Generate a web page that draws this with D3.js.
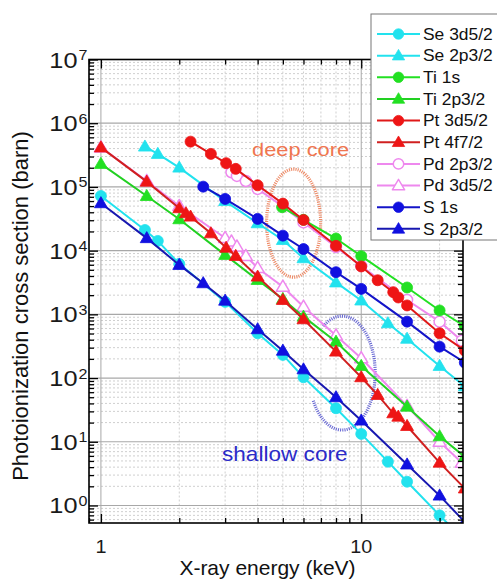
<!DOCTYPE html>
<html><head><meta charset="utf-8">
<script src="https://cdn.jsdelivr.net/npm/d3@7/dist/d3.min.js"></script>
<style>
body{margin:0;background:#fff}
svg{display:block}
text{font-family:"Liberation Sans",Arial,Helvetica,sans-serif}
</style>
</head><body>
<svg id="c" width="497" height="579"></svg>
<script>
// ---- data: [energy keV, cross section barn] ----
const se3d52 = [[1,7.2e4],[1.476,2.11e4],[1.654,1.42e4],[2,6.2e3],[3,1.57e3],[4,505],[5,231],[6,103],[8,33.6],[10,13.3],[12.66,4.87],[15,2.36],[20,0.7],[25,0.28]];
const se2p32 = [[1.476,4.3e5],[1.654,3.3e5],[2,2.01e5],[3,6.0e4],[4,2.69e4],[5,1.47e4],[6,7.6e3],[8,3.17e3],[10,1.65e3],[12.66,725],[15,414],[20,155],[25,74]];
const ti1s   = [[4.966,4.8e4],[6,3.05e4],[8,1.55e4],[10,8.2e3],[15,2.64e3],[20,1.15e3],[25,650]];
const ti2p32 = [[1,2.3e5],[1.5,7.2e4],[2,3.11e4],[3,8.57e3],[4,3.47e3],[5,1.74e3],[6,920],[8,372],[10,155],[15,35.6],[20,12.2],[25,5.8]];
const pt3d52 = [[2.21,5.14e5],[2.645,3.3e5],[3.027,2.36e5],[3.296,1.92e5],[4,1.06e5],[5,5.47e4],[6,3.03e4],[8,1.19e4],[10,5.65e3],[11.564,3.43e3],[13.273,2.23e3],[13.88,1.84e3],[15,1.38e3],[20,505],[25,270]];
const pt4f72 = [[1,4.17e5],[1.5,1.21e5],[2,4.63e4],[2.122,3.86e4],[2.21,3.42e4],[2.645,1.87e4],[3.027,1.11e4],[3.296,8.26e3],[4,3.91e3],[5,1.68e3],[6,838],[8,260],[10,103],[11.564,54.3],[13.273,28],[13.88,24.8],[15,17.7],[20,4.7],[25,1.85]];
const pd2p32 = [[3.173,1.7e5],[3.33,1.49e5],[3.604,1.24e5],[4,9.3e4],[5,4.94e4],[6,2.77e4],[8,1.14e4],[10,5.75e3],[15,1.68e3],[20,768],[24.35,386]];
const pd3d52 = [[1,4.17e5],[1.5,1.24e5],[2,5.0e4],[3,1.58e4],[3.173,1.39e4],[3.33,1.16e4],[3.604,8.26e3],[4,5.35e3],[5,2.72e3],[6,1.32e3],[8,467],[10,205],[15,36.5],[20,10.0],[24.35,4.7]];
const s1s    = [[2.472,1.01e5],[3,6.48e4],[4,3.15e4],[5,1.72e4],[6,1.06e4],[8,4.59e3],[10,2.51e3],[15,768],[20,311],[25,175]];
const s2p32  = [[1,5.55e4],[1.5,1.57e4],[2,5.97e3],[2.472,3.08e3],[3,1.64e3],[4,584],[5,269],[6,137],[8,50],[10,21.5],[15,4.4],[20,1.43],[25,0.55]];

const legendNames = ["Se 3d5/2","Se 2p3/2","Ti 1s","Ti 2p3/2","Pt 3d5/2","Pt 4f7/2","Pd 2p3/2","Pd 3d5/2","S 1s","S 2p3/2"];
const seriesData  = [se3d52, se2p32, ti1s, ti2p32, pt3d52, pt4f72, pd2p32, pd3d52, s1s, s2p32];
const xTickLabels = ["1","10"];
const yTickExponents = [0,1,2,3,4,5,6,7];
const xTitle = "X-ray energy (keV)";
const yTitle = "Photoionization cross section (barn)";
const annotations = ["deep core","shallow core"];

// ---- styles ----
const styles = [
  {c:"#22e2ee", lc:"#22e2ee", m:"circle",   open:false},
  {c:"#22e2ee", lc:"#22e2ee", m:"triangle", open:false},
  {c:"#22e022", lc:"#22e022", m:"circle",   open:false},
  {c:"#22e022", lc:"#22d022", m:"triangle", open:false},
  {c:"#ee1515", lc:"#e01818", m:"circle",   open:false},
  {c:"#ee1515", lc:"#d02020", m:"triangle", open:false},
  {c:"#ee88ee", lc:"#ee88ee", m:"circle",   open:true},
  {c:"#ee88ee", lc:"#ee88ee", m:"triangle", open:true},
  {c:"#1010e0", lc:"#1414c8", m:"circle",   open:false},
  {c:"#1010e0", lc:"#1818b0", m:"triangle", open:false}
];
const drawOrder = [6,7,0,1,2,3,4,5,8,9];

const L=89, R=463, T=59.5, B=523;
const x = d3.scaleLog().domain([0.9,24.6]).range([L,R]);
const y = d3.scaleLog().domain([0.531,1e7]).range([B,T]);
const svg = d3.select("#c");

const isMajor = v => Math.abs(Math.log10(v)-Math.round(Math.log10(v)))<1e-9;
const xt = x.ticks(), yt = y.ticks();
const xMaj = xt.filter(isMajor), xMin = xt.filter(v=>!isMajor(v));
const yMaj = yt.filter(isMajor), yMin = yt.filter(v=>!isMajor(v));

// grid
const grid = svg.append("g");
grid.selectAll(".gxm").data(xMin).join("line").attr("x1",d=>x(d)).attr("x2",d=>x(d)).attr("y1",T).attr("y2",B)
  .attr("stroke","#cfcfcf").attr("stroke-width",1).attr("stroke-dasharray","2,2");
grid.selectAll(".gym").data(yMin).join("line").attr("y1",d=>y(d)).attr("y2",d=>y(d)).attr("x1",L).attr("x2",R)
  .attr("stroke","#cfcfcf").attr("stroke-width",1).attr("stroke-dasharray","2,2");
grid.selectAll(".gxM").data(xMaj).join("line").attr("x1",d=>x(d)).attr("x2",d=>x(d)).attr("y1",T).attr("y2",B)
  .attr("stroke","#a8a8a8").attr("stroke-width",1);
grid.selectAll(".gyM").data(yMaj).join("line").attr("y1",d=>y(d)).attr("y2",d=>y(d)).attr("x1",L).attr("x2",R)
  .attr("stroke","#a8a8a8").attr("stroke-width",1.2);

// clip
svg.append("defs").append("clipPath").attr("id","clip").append("rect")
  .attr("x",L).attr("y",T).attr("width",R-L).attr("height",B-T);

// annotation ellipses (data-space centres)
const ann = svg.append("g").attr("clip-path","url(#clip)");
function ellipsePts(cx,cy,rx,ry,a0,a1){
  return d3.range(a0,a1+0.001,2).map(a=>[cx+rx*Math.cos(a*Math.PI/180), cy+ry*Math.sin(a*Math.PI/180)]);
}
const deepC = [5.5, 2.7e4], shallowC = [8.45, 120];
ann.append("path").attr("d", d3.line()(ellipsePts(x(deepC[0]), y(deepC[1]), 27, 54, 0, 360)))
  .attr("fill","none").attr("stroke","#ee8a66").attr("stroke-width",3.2).attr("stroke-dasharray","1.1,1.1");
ann.append("path").attr("d", d3.line()(ellipsePts(x(shallowC[0]), y(shallowC[1]), 33, 57, -125, 151)))
  .attr("fill","none").attr("stroke","#6a6ad4").attr("stroke-width",3.2).attr("stroke-dasharray","1.1,1.1");

// series
const plot = svg.append("g").attr("clip-path","url(#clip)");
const line = d3.line().x(d=>x(d[0])).y(d=>y(d[1]));
const triPath = "M0,-6.6L6.5,4.5L-6.5,4.5Z";
function drawMarker(g, m, st, px, py, scale){
  if(m==="circle"){
    g.append("circle").attr("cx",px).attr("cy",py).attr("r",5.5*scale)
      .attr("fill",st.open?"#fff":st.c).attr("stroke",st.c).attr("stroke-width",st.open?1.5:0.8);
  } else {
    g.append("path").attr("d",triPath).attr("transform",`translate(${px},${py}) scale(${scale})`)
      .attr("fill",st.open?"#fff":st.c).attr("stroke",st.c).attr("stroke-width",st.open?1.5:0.8)
      .attr("stroke-linejoin","round");
  }
}
drawOrder.forEach(i=>{
  const st = styles[i], data = seriesData[i];
  const g = plot.append("g");
  g.append("path").attr("d",line(data)).attr("fill","none").attr("stroke",st.lc).attr("stroke-width",2);
  data.forEach(d=>drawMarker(g, st.m, st, x(d[0]), y(d[1]), 1));
});

// frame
svg.append("rect").attr("x",L).attr("y",T).attr("width",R-L).attr("height",B-T)
  .attr("fill","none").attr("stroke","#000").attr("stroke-width",1.6);

// axes ticks (inward, mirrored)
function ticks(axisFn, scale, vals, size, tr){
  svg.append("g").attr("transform",tr)
    .call(axisFn(scale).tickValues(vals).tickSize(size).tickSizeOuter(0).tickFormat(""))
    .call(g=>g.select(".domain").remove())
    .call(g=>g.selectAll("line").attr("stroke","#000").attr("stroke-width",1.3));
}
ticks(d3.axisBottom, x, xMaj, -9, `translate(0,${B})`);
ticks(d3.axisBottom, x, xMin, -5, `translate(0,${B})`);
ticks(d3.axisTop, x, xMaj, -9, `translate(0,${T})`);
ticks(d3.axisTop, x, xMin, -5, `translate(0,${T})`);
ticks(d3.axisLeft, y, yMaj, -9, `translate(${L},0)`);
ticks(d3.axisLeft, y, yMin, -5, `translate(${L},0)`);
ticks(d3.axisRight, y, yMaj, -9, `translate(${R},0)`);
ticks(d3.axisRight, y, yMin, -5, `translate(${R},0)`);

// stretched text helper
function txt(px,py,str,size,anchor,sx,fill){
  const g = svg.append("g").attr("transform",`translate(${px},${py}) scale(${sx},1)`);
  g.append("text").attr("x",0).attr("y",0).attr("font-size",size).attr("text-anchor",anchor)
    .attr("fill",fill||"#111").text(str);
  return g;
}

// y tick labels
yTickExponents.forEach(e=>{
  const py = y(Math.pow(10,e));
  txt(77.5, py+8, "10", 22, "end", 1.15, "#1a1a1a");
  txt(78.5, py+0.5, String(e), 14, "start", 1.15, "#1a1a1a");
});
// x tick labels
xTickLabels.forEach(s=>{ txt(x(+s), 553, s, 18, "middle", 1.1, "#1a1a1a"); });

// titles
svg.append("text").attr("x",267.5).attr("y",575).attr("font-size",21).attr("text-anchor","middle").attr("fill","#111").text(xTitle);
svg.append("text").attr("transform","translate(28,306) rotate(-90)").attr("font-size",22).attr("text-anchor","middle").attr("fill","#111").text(yTitle);

// annotation labels
txt(252, 156, annotations[0], 19, "start", 1.15, "#ef7650");
txt(222, 461, annotations[1], 20, "start", 1.13, "#2b2bc8");

// legend
const lg = svg.append("g");
lg.append("rect").attr("x",371).attr("y",14).attr("width",140).attr("height",226)
  .attr("fill","#fff").attr("stroke","#777").attr("stroke-width",1);
legendNames.forEach((n,i)=>{
  const st = styles[i];
  const ry = 34 + i*21.65;
  lg.append("line").attr("x1",377).attr("x2",420).attr("y1",ry).attr("y2",ry).attr("stroke",st.lc).attr("stroke-width",2);
  drawMarker(lg, st.m, st, 398.5, ry, 0.95);
  const g = lg.append("g").attr("transform",`translate(423,${ry+5.8}) scale(1.09,1)`);
  g.append("text").attr("font-size",16).attr("fill","#111").text(n);
});
</script>
</body></html>
